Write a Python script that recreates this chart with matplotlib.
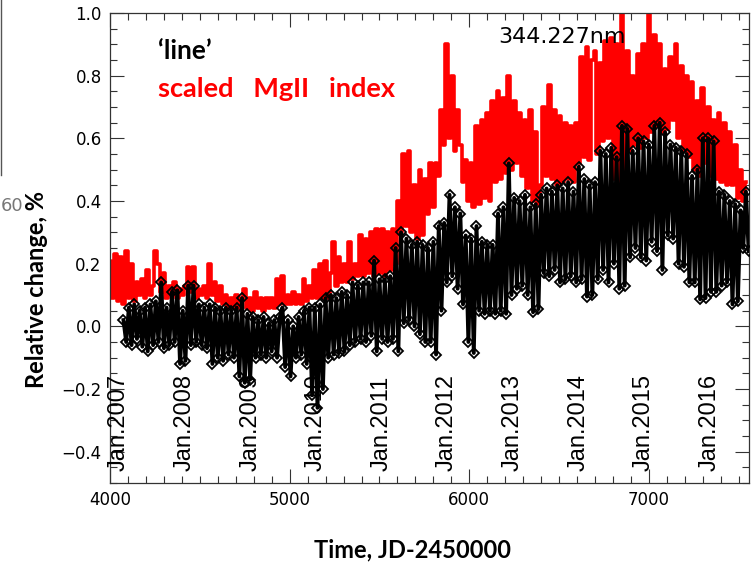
import matplotlib
matplotlib.use('Agg')
import matplotlib.pyplot as plt
import matplotlib.ticker as ticker
import numpy as np

# scaled MgII index, one value every 15 days from JD-2450000 = 4000
mg_start, mg_step = 4000, 15
mg_index = [
    0.21, 0.09, 0.23, 0.08, 0.22, 0.07, 0.24, 0.09, 0.20, 0.08,
    0.14, 0.10, 0.15, 0.09, 0.18, 0.10, 0.13, 0.24, 0.20, 0.11,
    0.17, 0.09, 0.13, 0.10, 0.14, 0.09, 0.12, 0.10, 0.13, 0.19,
    0.11, 0.19, 0.09, 0.12, 0.10, 0.13, 0.09, 0.20, 0.10, 0.14,
    0.08, 0.13, 0.07, 0.10, 0.06, 0.09, 0.06, 0.10, 0.06, 0.09,
    0.12, 0.06, 0.09, 0.05, 0.11, 0.06, 0.09, 0.05, 0.09, 0.06,
    0.09, 0.06, 0.15, 0.07, 0.16, 0.07, 0.10, 0.07, 0.11, 0.07,
    0.10, 0.07, 0.15, 0.08, 0.13, 0.09, 0.18, 0.09, 0.20, 0.09,
    0.21, 0.09, 0.17, 0.27, 0.13, 0.22, 0.14, 0.20, 0.14, 0.27,
    0.15, 0.20, 0.16, 0.29, 0.16, 0.28, 0.17, 0.30, 0.16, 0.31,
    0.17, 0.31, 0.16, 0.30, 0.18, 0.31, 0.20, 0.40, 0.30, 0.55,
    0.32, 0.56, 0.30, 0.45, 0.28, 0.50, 0.29, 0.47, 0.36, 0.52,
    0.38, 0.52, 0.48, 0.69, 0.58, 0.90, 0.60, 0.80, 0.56, 0.69,
    0.58, 0.46, 0.53, 0.40, 0.52, 0.38, 0.64, 0.39, 0.66, 0.41,
    0.68, 0.40, 0.72, 0.46, 0.75, 0.47, 0.73, 0.49, 0.80, 0.50,
    0.72, 0.52, 0.68, 0.48, 0.66, 0.44, 0.69, 0.40, 0.62, 0.39,
    0.45, 0.70, 0.48, 0.77, 0.47, 0.69, 0.45, 0.67, 0.46, 0.65,
    0.47, 0.64, 0.46, 0.65, 0.52, 0.86, 0.54, 0.89, 0.53, 0.85,
    0.88, 0.55, 0.84, 0.59, 0.91, 0.60, 0.92, 0.47, 0.90, 0.46,
    1.02, 0.50, 0.88, 0.56, 0.80, 0.58, 0.87, 0.57, 0.90, 0.60,
    1.02, 0.62, 0.93, 0.64, 0.90, 0.62, 0.82, 0.63, 0.86, 0.66,
    0.90, 0.60, 0.83, 0.56, 0.80, 0.54, 0.78, 0.50, 0.72, 0.48,
    0.76, 0.52, 0.70, 0.48, 0.66, 0.47, 0.68, 0.46, 0.65, 0.45,
    0.62, 0.45, 0.58, 0.41, 0.50, 0.40, 0.46,
]

# relative change of the 344.227 nm 'line', every 15 days from 4075
line_start, line_step = 4075, 15
line_change = [
    0.02, -0.05, 0.06, -0.06, 0.07, -0.04, 0.05, -0.065, 0.06, -0.08,
    0.07, -0.06, 0.08, -0.05, 0.14, -0.07, 0.06, -0.06, 0.11, -0.05,
    0.115, -0.12, 0.05, -0.11, 0.13, -0.06, 0.13, -0.05, 0.07, -0.06,
    0.06, -0.07, 0.07, -0.12, 0.06, -0.10, 0.05, -0.11, 0.06, -0.09,
    0.05, -0.10, 0.06, -0.16, 0.09, -0.18, 0.04, -0.17, 0.03, -0.10,
    0.02, -0.09, 0.03, -0.10, 0.01, -0.08, 0.02, -0.10, 0.03, 0.06,
    -0.13, 0.02, -0.16, 0.00, -0.10, 0.03, -0.09, 0.05, -0.12, 0.06,
    -0.22, 0.06, -0.26, 0.07, -0.20, 0.09, -0.10, 0.10, -0.09, 0.09,
    -0.085, 0.11, -0.08, 0.10, -0.06, 0.14, -0.05, 0.13, -0.04, 0.14,
    -0.05, 0.14, -0.03, 0.21, -0.08, 0.15, -0.04, 0.15, -0.05, 0.16,
    -0.04, 0.25, -0.08, 0.30, 0.01, 0.28, 0.02, 0.26, 0.00, 0.27,
    -0.025, 0.26, -0.05, 0.25, -0.05, 0.27, -0.09, 0.32, 0.05, 0.33,
    0.14, 0.42, 0.16, 0.38, 0.12, 0.36, 0.07, 0.29, -0.05, 0.28,
    -0.085, 0.32, 0.05, 0.27, 0.04, 0.26, 0.05, 0.26, 0.04, 0.36,
    0.05, 0.38, 0.04, 0.52, 0.10, 0.41, 0.12, 0.40, 0.13, 0.42,
    0.10, 0.38, 0.045, 0.39, 0.055, 0.42, 0.17, 0.44, 0.16, 0.43,
    0.18, 0.45, 0.14, 0.44, 0.15, 0.46, 0.16, 0.43, 0.14, 0.51,
    0.15, 0.47, 0.095, 0.45, 0.10, 0.46, 0.15, 0.56, 0.18, 0.55,
    0.14, 0.57, 0.20, 0.54, 0.12, 0.64, 0.13, 0.63, 0.22, 0.56,
    0.25, 0.60, 0.22, 0.59, 0.21, 0.58, 0.27, 0.64, 0.24, 0.65,
    0.18, 0.62, 0.29, 0.58, 0.28, 0.57, 0.20, 0.56, 0.19, 0.55,
    0.14, 0.48, 0.14, 0.50, 0.086, 0.60, 0.09, 0.60, 0.11, 0.59,
    0.11, 0.43, 0.13, 0.42, 0.14, 0.40, 0.07, 0.39, 0.08, 0.37,
    0.25, 0.43, 0.24,
]

year_labels = ["Jan.2007", "Jan.2008", "Jan.2009", "Jan.2010", "Jan.2011",
               "Jan.2012", "Jan.2013", "Jan.2014", "Jan.2015", "Jan.2016"]
year_days = [4101.5, 4466.5, 4832.5, 5197.5, 5562.5,
             5927.5, 6293.5, 6658.5, 7023.5, 7388.5]

mg_days = mg_start + mg_step * np.arange(len(mg_index))
line_days = line_start + line_step * np.arange(len(line_change))

fig = plt.figure(figsize=(7.51, 5.68), dpi=100)
ax = fig.add_axes([110 / 751, 1 - 483 / 568, 639 / 751, 470 / 568])

ax.plot(mg_days, mg_index, color='#ff0000', lw=2.6, drawstyle='steps-mid', zorder=2)
ax.plot(line_days, line_change, color='black', lw=2.8, zorder=3)
ax.plot(line_days, line_change, ls='none', marker='D', markersize=5.5,
        mfc='none', mec='black', mew=1.3, zorder=4)

ax.set_xlim(4000, 7557)
ax.set_ylim(-0.5, 1.0)
ax.xaxis.set_major_locator(ticker.MultipleLocator(1000))
ax.xaxis.set_minor_locator(ticker.MultipleLocator(100))
ax.yaxis.set_major_locator(ticker.MultipleLocator(0.2))
ax.yaxis.set_minor_locator(ticker.MultipleLocator(0.05))
ax.yaxis.set_major_formatter(
    ticker.FuncFormatter(lambda v, p: f'{v:.1f}'.replace('-', '\u2212')))
ax.tick_params(which='both', direction='in', top=True, right=True, width=0.8,
               labelsize=12, color='#333333')
ax.tick_params(which='major', length=10, pad=6)
ax.tick_params(which='minor', length=5)
for s in ax.spines.values():
    s.set_linewidth(0.9)
    s.set_color('#333333')

for day, lab in zip(year_days, year_labels):
    ax.text(day + 10, -0.462, lab, rotation=90, ha='right', va='bottom',
            fontsize=17, family='Liberation Sans')

ax.text(4265, 0.852, '\u2018line\u2019', fontsize=19, fontweight='bold',
        family='Lato', va='baseline')
ax.text(4265, 0.733, 'scaled   MgII   index', fontsize=19.5, fontweight='bold',
        family='Lato', color='#ff0000', va='baseline')
ax.text(6160, 0.905, '344.227nm', fontsize=16, va='baseline')

fig.text(37 / 751, 1 - 289 / 568, 'Relative change, %', rotation=90,
         ha='center', va='center', fontsize=17, fontweight='bold', family='Lato')
fig.text(412 / 751, 1 - 550 / 568, 'Time, JD-2450000', ha='center', va='center',
         fontsize=17, fontweight='bold', family='Lato')

# edge of the neighbouring panel on the slide
fig.add_artist(plt.Line2D([1 / 751, 1 / 751], [1, 1 - 175 / 568], color='#555555', lw=1))
fig.text(1 / 751, 1 - 206 / 568, '60', ha='left', va='center', fontsize=13,
         color='#777777')

plt.savefig('out.png', dpi=100)
